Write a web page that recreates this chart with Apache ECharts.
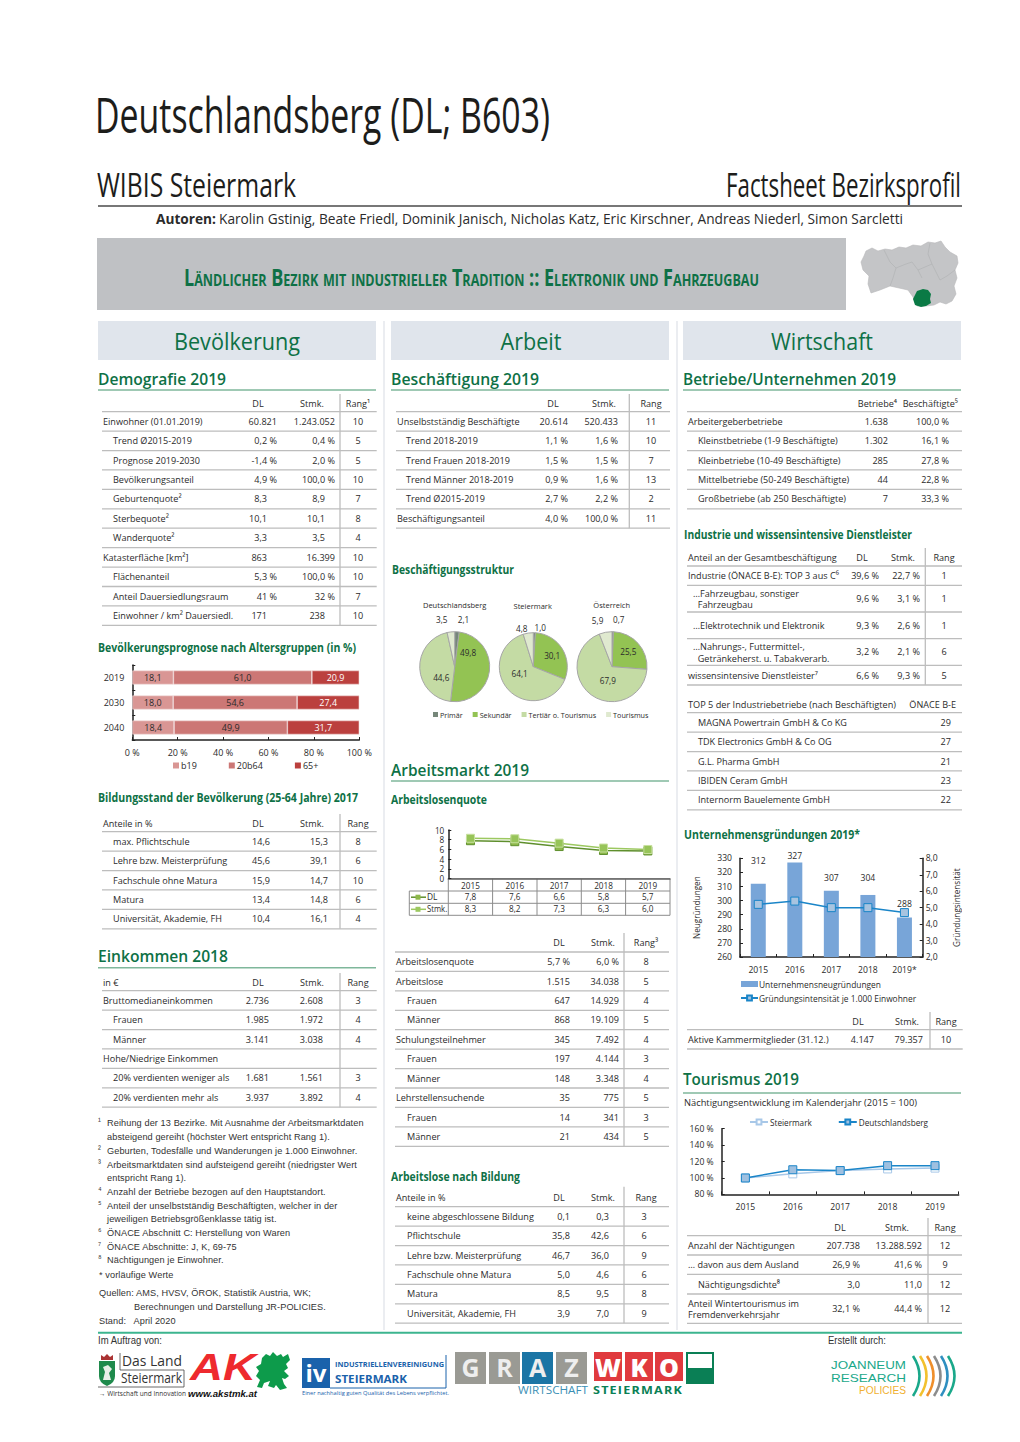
<!DOCTYPE html>
<html lang="de">
<head>
<meta charset="utf-8">
<title>Deutschlandsberg Factsheet</title>
<script src="https://cdn.jsdelivr.net/npm/echarts@6/dist/echarts.min.js"></script>
<style>
  html, body { margin: 0; padding: 0; background: #fff; }
  #page { position: relative; width: 1020px; height: 1442px; overflow: hidden; font-family: "Open Sans", sans-serif; color: #2b2b2b; }
  #page svg.bg { position: absolute; left: 0; top: 0; }
  #page span { position: absolute; white-space: pre; }
  .chart { position: absolute; }
</style>
</head>
<body>
<div id="page">
  <svg class="bg" id="bg" width="1020" height="1442" xmlns="http://www.w3.org/2000/svg"></svg>
  <div class="chart" id="ageChart" style="left:98px;top:655px;width:280px;height:120px"></div>
  <div class="chart" id="pieChart" style="left:391px;top:595px;width:280px;height:130px"></div>
  <div class="chart" id="alqChart" style="left:395px;top:820px;width:280px;height:72px"></div>
  <div class="chart" id="foundChart" style="left:683px;top:848px;width:279px;height:162px"></div>
  <div class="chart" id="nightChart" style="left:683px;top:1112px;width:279px;height:102px"></div>
</div>

<script>
// ---------- Daten: Diagramme ----------
const ageYears = ['2019', '2030', '2040']
const ageB19 = [18.1, 18.0, 18.4]
const age20b64 = [61.0, 54.6, 49.9]
const age65 = [20.9, 27.4, 31.7]

const pieSectors = ['Primär', 'Sekundär', 'Tertiär o. Tourismus', 'Tourismus']
const pieDL = [2.1, 49.8, 44.6, 3.5]
const pieStmk = [1.0, 30.1, 64.1, 4.8]
const pieAT = [0.7, 25.5, 67.9, 5.9]

const alqYears = ['2015', '2016', '2017', '2018', '2019']
const alqDL = [7.8, 7.6, 6.6, 5.8, 5.7]
const alqStmk = [8.3, 8.2, 7.3, 6.3, 6.0]

const foundYears = ['2015', '2016', '2017', '2018', '2019*']
const foundCount = [312, 327, 307, 304, 288]
const foundRate = [5.2, 5.4, 5.0, 5.0, 4.7]

const nightYears = ['2015', '2016', '2017', '2018', '2019']
const nightStmk = [100, 105, 109, 111, 112]
const nightDL = [100, 110, 109, 115, 115]

// ---------- Daten: Tabellen ----------
const demoLabels = ['Einwohner (01.01.2019)', 'Trend Ø2015-2019', 'Prognose 2019-2030', 'Bevölkerungsanteil', 'Geburtenquote²', 'Sterbequote²', 'Wanderquote²', 'Katasterfläche [km²]', 'Flächenanteil', 'Anteil Dauersiedlungsraum', 'Einwohner / km² Dauersiedl.']
const demoDL = ['60.821', '0,2 %', '-1,4 %', '4,9 %', '8,3', '10,1', '3,3', '863', '5,3 %', '41 %', '171']
const demoStmk = ['1.243.052', '0,4 %', '2,0 %', '100,0 %', '8,9', '10,1', '3,5', '16.399', '100,0 %', '32 %', '238']
const demoRang = ['10', '5', '5', '10', '7', '8', '4', '10', '10', '7', '10']

const bildLabels = ['max. Pflichtschule', 'Lehre bzw. Meisterprüfung', 'Fachschule ohne Matura', 'Matura', 'Universität, Akademie, FH']
const bildDL = ['14,6', '45,6', '15,9', '13,4', '10,4']
const bildStmk = ['15,3', '39,1', '14,7', '14,8', '16,1']
const bildRang = ['8', '6', '10', '6', '4']

const einkLabels = ['Bruttomedianeinkommen', 'Frauen', 'Männer', 'Hohe/Niedrige Einkommen', '20% verdienten weniger als', '20% verdienten mehr als']
const einkDL = ['2.736', '1.985', '3.141', '', '1.681', '3.937']
const einkStmk = ['2.608', '1.972', '3.038', '', '1.561', '3.892']
const einkRang = ['3', '4', '4', '', '3', '4']

const beschLabels = ['Unselbstständig Beschäftigte', 'Trend 2018-2019', 'Trend Frauen 2018-2019', 'Trend Männer 2018-2019', 'Trend Ø2015-2019', 'Beschäftigungsanteil']
const beschDL = ['20.614', '1,1 %', '1,5 %', '0,9 %', '2,7 %', '4,0 %']
const beschStmk = ['520.433', '1,6 %', '1,5 %', '1,6 %', '2,2 %', '100,0 %']
const beschRang = ['11', '10', '7', '13', '2', '11']

const almLabels = ['Arbeitslosenquote', 'Arbeitslose', 'Frauen', 'Männer', 'Schulungsteilnehmer', 'Frauen', 'Männer', 'Lehrstellensuchende', 'Frauen', 'Männer']
const almDL = ['5,7 %', '1.515', '647', '868', '345', '197', '148', '35', '14', '21']
const almStmk = ['6,0 %', '34.038', '14.929', '19.109', '7.492', '4.144', '3.348', '775', '341', '434']
const almRang = ['8', '5', '4', '5', '4', '3', '4', '5', '3', '5']

const albLabels = ['keine abgeschlossene Bildung', 'Pflichtschule', 'Lehre bzw. Meisterprüfung', 'Fachschule ohne Matura', 'Matura', 'Universität, Akademie, FH']
const albDL = ['0,1', '35,8', '46,7', '5,0', '8,5', '3,9']
const albStmk = ['0,3', '42,6', '36,0', '4,6', '9,5', '7,0']
const albRang = ['3', '6', '9', '6', '8', '9']

const betrLabels = ['Arbeitergeberbetriebe', 'Kleinstbetriebe (1-9 Beschäftigte)', 'Kleinbetriebe (10-49 Beschäftigte)', 'Mittelbetriebe (50-249 Beschäftigte)', 'Großbetriebe (ab 250 Beschäftigte)']
const betrCount = ['1.638', '1.302', '285', '44', '7']
const betrShare = ['100,0 %', '16,1 %', '27,8 %', '22,8 %', '33,3 %']

const indLabels = ['Industrie (ÖNACE B-E): TOP 3 aus C⁶', '…Fahrzeugbau, sonstiger\n\u00a0\u00a0Fahrzeugbau', '…Elektrotechnik und Elektronik', '…Nahrungs-, Futtermittel-,\n\u00a0\u00a0Getränkeherst. u. Tabakverarb.', 'wissensintensive Dienstleister⁷']
const indDL = ['39,6 %', '9,6 %', '9,3 %', '3,2 %', '6,6 %']
const indStmk = ['22,7 %', '3,1 %', '2,6 %', '2,1 %', '9,3 %']
const indRang = ['1', '1', '1', '6', '5']

const topLabels = ['MAGNA Powertrain GmbH & Co KG', 'TDK Electronics GmbH & Co OG', 'G.L. Pharma GmbH', 'IBIDEN Ceram GmbH', 'Internorm Bauelemente GmbH']
const topOenace = ['29', '27', '21', '23', '22']

const kammerLabels = ['Aktive Kammermitglieder (31.12.)']
const kammerDL = ['4.147']
const kammerStmk = ['79.357']
const kammerRang = ['10']

const tourLabels = ['Anzahl der Nächtigungen', '… davon aus dem Ausland', 'Nächtigungsdichte⁸', 'Anteil Wintertourismus im\nFremdenverkehrsjahr']
const tourDL = ['207.738', '26,9 %', '3,0', '32,1 %']
const tourStmk = ['13.288.592', '41,6 %', '11,0', '44,4 %']
const tourRang = ['12', '9', '12', '12']

const footnotes = [
  ['¹', 'Reihung der 13 Bezirke. Mit Ausnahme der Arbeitsmarktdaten'],
  ['', 'absteigend gereiht (höchster Wert entspricht Rang 1).'],
  ['²', 'Geburten, Todesfälle und Wanderungen je 1.000 Einwohner.'],
  ['³', 'Arbeitsmarktdaten sind aufsteigend gereiht (niedrigster Wert'],
  ['', 'entspricht Rang 1).'],
  ['⁴', 'Anzahl der Betriebe bezogen auf den Hauptstandort.'],
  ['⁵', 'Anteil der unselbstständig Beschäftigten, welcher in der'],
  ['', 'jeweiligen Betriebsgrößenklasse tätig ist.'],
  ['⁶', 'ÖNACE Abschnitt C: Herstellung von Waren'],
  ['⁷', 'ÖNACE Abschnitte: J, K, 69-75'],
  ['⁸', 'Nächtigungen je Einwohner.']
]

// ---------- Helfer ----------
const GREEN = '#0e7146'
const page = document.getElementById('page')
const bg = document.getElementById('bg')
const comma = v => v.toFixed(1).replace('.', ',')

// Text: y ist die Mitte der Zeile, a = l/r/c, w = Zielbreite, sx = feste Stauchung
function txt(x, y, s, o = {}) {
  const e = document.createElement('span')
  e.textContent = s
  e.style.left = x + 'px'
  e.style.top = y + 'px'
  e.style.fontSize = (o.size || 9.4) + 'px'
  e.style.lineHeight = s.includes('\n') ? 1.2 : 1
  e.style.fontFamily = o.font || '"Open Sans", sans-serif'
  e.style.fontWeight = o.weight || 400
  e.style.color = o.color || '#2b2b2b'
  if (o.style) e.style.fontStyle = o.style
  if (o.caps) e.style.fontVariant = 'small-caps'
  if (o.ls) e.style.letterSpacing = o.ls + 'px'
  page.appendChild(e)
  const sx = o.w ? o.w / e.getBoundingClientRect().width : (o.sx || 1)
  const a = o.a || 'l'
  const tx = a === 'r' ? '-100%' : a === 'c' ? '-50%' : '0'
  e.style.transformOrigin = (a === 'r' ? 'right' : a === 'c' ? 'center' : 'left') + ' center'
  e.style.transform = `translate(${tx},-50%) scaleX(${sx})`
  return e
}

function shape(tag, attrs) {
  const e = document.createElementNS('http://www.w3.org/2000/svg', tag)
  Object.keys(attrs).forEach(k => e.setAttribute(k, attrs[k]))
  bg.appendChild(e)
  return e
}
const line = (x1, y1, x2, y2, stroke = '#bdbdbd', w = 1.3) => shape('line', { x1, y1, x2, y2, stroke, 'stroke-width': w })
const box = (x, y, width, height, fill) => shape('rect', { x, y, width, height, fill })
const steps = (start, n, step = 19.42) => Array.from({ length: n + 1 }, (_, i) => start + i * step)

// Tabelle: lines = Linien ab Kopf-Unterkante, eine Zeile liegt zwischen zwei Linien
function table(t) {
  const SX = 0.97
  t.lines.forEach(y => line(t.x0, y, t.x1, y))
  if (t.vx) line(t.vx, t.vTop, t.vx, t.lines[t.lines.length - 1])
  if (t.corner) txt(t.lx, t.headY, t.corner, { sx: SX })
  t.labels.forEach((s, i) => {
    const y = (t.lines[i] + t.lines[i + 1]) / 2 + 0.4
    const x = (t.indent || []).includes(i) ? t.ix : t.lx
    txt(x, y, s, { sx: SX })
  })
  t.cols.forEach(c => {
    if (c.head) txt(c.hx, t.headY, c.head, { a: c.ha || 'c', sx: SX })
    c.values.forEach((v, i) => {
      if (!v) return
      const y = (t.lines[i] + t.lines[i + 1]) / 2 + 0.4
      if (c.center) txt(c.center, y, v, { a: 'c', sx: SX })
      else txt(c.right - ((c.shift || []).includes(i) ? 10 : 0), y, v, { a: 'r', sx: SX })
    })
  })
}

function sectionHead(x0, y, s, w, ruleY) {
  txt(x0, y - 1, s, { size: 17, weight: 600, color: GREEN, w })
  line(x0, ruleY, x0 + 278, ruleY, '#7fb79b', 1.4)
}
const smallHead = (x, y, s, w) => txt(x, y - 0.5, s, { size: 11.5, weight: 700, color: GREEN, w })

// ---------- Kopfbereich ----------
txt(95, 113.5, 'Deutschlandsberg (DL; B603)', { size: 50, w: 455, color: '#1d1d1b' })
txt(97, 184, 'WIBIS Steiermark', { size: 33, w: 199, color: '#1d1d1b' })
txt(961, 184, 'Factsheet Bezirksprofil', { size: 33, a: 'r', w: 235, color: '#1d1d1b' })
line(98, 206, 962, 206, '#4a4a4a', 1.5)
txt(156, 219, 'Autoren:', { size: 14.5, weight: 700, w: 60 })
txt(219, 219, 'Karolin Gstinig, Beate Friedl, Dominik Janisch, Nicholas Katz, Eric Kirschner, Andreas Niederl, Simon Sarcletti', { size: 14.5, w: 684 })

box(97, 238, 749, 72, '#bfc1c4')
txt(184, 277, 'Ländlicher Bezirk mit industrieller Tradition :: Elektronik und Fahrzeugbau', { size: 23, weight: 700, caps: true, color: GREEN, w: 575 })

// Karte Steiermark (nur Schmuck)
shape('path', { d: 'M866 251 L872 248 L878 251 L885 249 L892 250 L899 247 L906 248 L913 245 L921 246 L928 242 L935 243 L941 241 L945 247 L950 252 L957 256 L958 263 L955 270 L957 278 L954 286 L956 294 L952 301 L946 304 L940 302 L934 305 L926 306 L917 306 L913 297 L908 290 L899 288 L890 286 L880 290 L871 293 L868 284 L869 276 L863 270 L861 262 L864 256 Z', fill: '#c4c5c7', stroke: '#b8b9bb', 'stroke-width': 0.6 })
shape('path', { d: 'M884 250 L890 262 L896 268 L906 264 L912 262 L918 270 L922 278 M930 243 L928 254 L932 264 L940 280 M896 268 L893 278 L890 286 M940 280 L947 276 L955 270 M918 270 L932 264', fill: 'none', stroke: '#aeb0b2', 'stroke-width': 0.6 })
shape('path', { d: 'M917 291 L923 289 L928 290 L931 294 L930 299 L931 303 L926 306 L921 307 L915 305 L913 299 L915 295 Z', fill: '#0a7a45' })

// Spaltenköpfe
box(98, 321, 278, 39, '#e0e5ec')
box(391, 321, 278, 39, '#e0e5ec')
box(683, 321, 278, 39, '#e0e5ec')
txt(237, 340.5, 'Bevölkerung', { size: 24, a: 'c', color: GREEN, w: 126 })
txt(531, 340.5, 'Arbeit', { size: 24, a: 'c', color: GREEN, w: 61 })
txt(822, 340.5, 'Wirtschaft', { size: 24, a: 'c', color: GREEN, w: 102 })
line(384, 321, 384, 1330, '#e4e7ec', 1.5)
line(677, 321, 677, 1330, '#e4e7ec', 1.5)

// ---------- Spalte Bevölkerung ----------
sectionHead(98, 379, 'Demografie 2019', 128, 390)
table({
  x0: 102, x1: 376.7, vx: 340, vTop: 394, headY: 403.5, lines: steps(411.7, 11), lx: 103, ix: 113, indent: [1, 2, 3, 4, 5, 6, 8, 9, 10],
  labels: demoLabels,
  cols: [
    { head: 'DL', hx: 258, values: demoDL, right: 277, shift: [4, 5, 6, 7, 10] },
    { head: 'Stmk.', hx: 312, values: demoStmk, right: 335, shift: [4, 5, 6, 10] },
    { head: 'Rang¹', hx: 358, values: demoRang, center: 358 }
  ]
})
smallHead(98, 648.5, 'Bevölkerungsprognose nach Altersgruppen (in %)', 258)

smallHead(98, 798.5, 'Bildungsstand der Bevölkerung (25-64 Jahre) 2017', 260)
table({
  x0: 102, x1: 376.7, vx: 340, vTop: 814, headY: 823.5, lines: steps(831.7, 5), lx: 103, ix: 113, indent: [0, 1, 2, 3, 4], corner: 'Anteile in %',
  labels: bildLabels,
  cols: [
    { head: 'DL', hx: 258, values: bildDL, right: 269.5 },
    { head: 'Stmk.', hx: 312, values: bildStmk, right: 328 },
    { head: 'Rang', hx: 358, values: bildRang, center: 358 }
  ]
})

sectionHead(98, 955.5, 'Einkommen 2018', 130, 967.7)
table({
  x0: 102, x1: 376.7, vx: 340, vTop: 973, headY: 983, lines: steps(990.7, 6), lx: 103, ix: 113, indent: [1, 2, 4, 5], corner: 'in €',
  labels: einkLabels,
  cols: [
    { head: 'DL', hx: 258, values: einkDL, right: 269 },
    { head: 'Stmk.', hx: 312, values: einkStmk, right: 323 },
    { head: 'Rang', hx: 358, values: einkRang, center: 358 }
  ]
})

// Fußnoten
const FN = { font: '"Liberation Sans", Arial, sans-serif', size: 9.6, sx: 0.955, color: '#333', ls: 0.1 }
const fnY = [1123.3, 1137.3, 1151, 1165, 1178, 1192, 1205.7, 1219, 1233, 1247, 1260.3]
footnotes.forEach((f, i) => {
  if (f[0]) txt(98, fnY[i] - 2, f[0], Object.assign({}, FN, { size: 9 }))
  txt(107.3, fnY[i], f[1], FN)
})
txt(99, 1274.7, '* vorläufige Werte', FN)
txt(99, 1293, 'Quellen: AMS, HVSV, ÖROK, Statistik Austria, WK;', FN)
txt(134, 1306.7, 'Berechnungen und Darstellung JR-POLICIES.', FN)
txt(99, 1320.7, 'Stand:   April 2020', FN)

// ---------- Spalte Arbeit ----------
sectionHead(391, 379, 'Beschäftigung 2019', 148, 390)
table({
  x0: 396, x1: 670, vx: 629.3, vTop: 394, headY: 403.5, lines: steps(411.7, 6), lx: 397, ix: 405.7, indent: [1, 2, 3, 4],
  labels: beschLabels,
  cols: [
    { head: 'DL', hx: 553, values: beschDL, right: 568 },
    { head: 'Stmk.', hx: 604, values: beschStmk, right: 618 },
    { head: 'Rang', hx: 650.7, values: beschRang, center: 650.7 }
  ]
})
smallHead(391.5, 570, 'Beschäftigungsstruktur', 122)
sectionHead(391, 770, 'Arbeitsmarkt 2019', 138, 781)
smallHead(391, 800, 'Arbeitslosenquote', 96)

// Datentabelle unter dem Liniendiagramm
const alqCols = [448.3, 492.6, 537, 581.3, 625.6, 670]
const alqRows = [878.7, 891, 903.3, 915.3]
alqRows.slice(1).forEach(y => line(409.3, y, 670, y, '#8c8c8c', 1))
line(448.3, 878.7, 670, 878.7, '#8c8c8c', 1)
alqCols.forEach(x => line(x, 878.7, x, 915.3, '#8c8c8c', 1))
line(409.3, 891, 409.3, 915.3, '#8c8c8c', 1)
alqDL.forEach((v, i) => txt((alqCols[i] + alqCols[i + 1]) / 2, 897.2, comma(v), { size: 8.2, a: 'c' }))
alqStmk.forEach((v, i) => txt((alqCols[i] + alqCols[i + 1]) / 2, 909.3, comma(v), { size: 8.2, a: 'c' }))
line(411, 897.2, 426, 897.2, '#5f8f2d', 1.5)
box(415.5, 894.7, 5, 5, '#8db84a')
line(411, 909.3, 426, 909.3, '#9cc860', 1.5)
box(415.5, 906.8, 5, 5, '#9cc860')
txt(427, 897.2, 'DL', { size: 8.4 })
txt(427, 909.3, 'Stmk.', { size: 8.4, sx: 0.92 })

table({
  x0: 395, x1: 669, vx: 624, vTop: 933, headY: 943.3, lines: steps(952, 10, 19.43), lx: 396, ix: 406.5, indent: [2, 3, 5, 6, 8, 9],
  labels: almLabels,
  cols: [
    { head: 'DL', hx: 559, values: almDL, right: 570 },
    { head: 'Stmk.', hx: 603, values: almStmk, right: 619 },
    { head: 'Rang³', hx: 646.3, values: almRang, center: 646.3 }
  ]
})
smallHead(391, 1177, 'Arbeitslose nach Bildung', 129)
table({
  x0: 395, x1: 669, vx: 624, vTop: 1186.7, headY: 1197.5, lines: steps(1206.7, 6), lx: 396, ix: 406.5, indent: [0, 1, 2, 3, 4, 5], corner: 'Anteile in %',
  labels: albLabels,
  cols: [
    { head: 'DL', hx: 559, values: albDL, right: 570 },
    { head: 'Stmk.', hx: 603, values: albStmk, right: 609 },
    { head: 'Rang', hx: 645.5, values: albRang, center: 644 }
  ]
})

// ---------- Spalte Wirtschaft ----------
sectionHead(683, 379, 'Betriebe/Unternehmen 2019', 213, 390)
table({
  x0: 687, x1: 962, headY: 403.5, lines: steps(411.7, 5), lx: 688, ix: 698, indent: [1, 2, 3, 4],
  labels: betrLabels,
  cols: [
    { head: 'Betriebe⁴', hx: 896.7, ha: 'r', values: betrCount, right: 888 },
    { head: 'Beschäftigte⁵', hx: 958, ha: 'r', values: betrShare, right: 949 }
  ]
})
smallHead(684, 535.3, 'Industrie und wissensintensive Dienstleister', 228)
table({
  x0: 687, x1: 962, vx: 925.3, vTop: 548, headY: 557.7, lines: [566, 585.3, 612, 638.7, 665.3, 685], lx: 688, ix: 693, indent: [1, 2, 3], corner: 'Anteil an der Gesamtbeschäftigung',
  labels: indLabels,
  cols: [
    { head: 'DL', hx: 861.7, values: indDL, right: 879 },
    { head: 'Stmk.', hx: 903.3, values: indStmk, right: 920 },
    { head: 'Rang', hx: 943.5, values: indRang, center: 944 }
  ]
})
table({
  x0: 687, x1: 962, headY: 705, lines: steps(712.7, 5), lx: 698, ix: 698, corner: '',
  labels: topLabels,
  cols: [
    { head: 'ÖNACE B-E', hx: 956, ha: 'r', values: topOenace, right: 951 }
  ]
})
txt(688, 705, 'TOP 5 der Industriebetriebe (nach Beschäftigten)', { w: 208 })

smallHead(684, 835.3, 'Unternehmensgründungen 2019*', 176)
table({
  x0: 687, x1: 962.7, vx: 930, vTop: 1012, headY: 1021.7, lines: [1029.7, 1049], lx: 688, ix: 688,
  labels: kammerLabels,
  cols: [
    { head: 'DL', hx: 858, values: kammerDL, right: 874 },
    { head: 'Stmk.', hx: 907, values: kammerStmk, right: 923 },
    { head: 'Rang', hx: 946, values: kammerRang, center: 946 }
  ]
})

sectionHead(683, 1079, 'Tourismus 2019', 116, 1093)
txt(684, 1103, 'Nächtigungsentwicklung im Kalenderjahr (2015 = 100)', { w: 233 })
table({
  x0: 687, x1: 962, vx: 928, vTop: 1218, headY: 1228, lines: [1235.7, 1255, 1274.3, 1294, 1323.3], lx: 688, ix: 698, indent: [2],
  labels: tourLabels,
  cols: [
    { head: 'DL', hx: 840, values: tourDL, right: 859.5 },
    { head: 'Stmk.', hx: 897, values: tourStmk, right: 922 },
    { head: 'Rang', hx: 945, values: tourRang, center: 945 }
  ]
})

// ---------- Fußzeile und Logos ----------
line(98, 1332.7, 962, 1332.7, '#3cb58f', 2)
const FOOT = { font: '"Liberation Sans", Arial, sans-serif', size: 10, color: '#333' }
txt(98, 1340.7, 'Im Auftrag von:', Object.assign({ w: 64 }, FOOT))
txt(828, 1340.7, 'Erstellt durch:', Object.assign({ w: 58 }, FOOT))

// Das Land Steiermark
shape('path', { d: 'M99 1361 L115 1361 L115 1376 Q115 1383 107 1386 Q99 1383 99 1376 Z', fill: '#1f8a4c' })
shape('path', { d: 'M103 1380 L105 1372 L103 1367 L108 1365 L112 1369 L109 1373 L111 1380 Z', fill: '#e8efe8' })
shape('path', { d: 'M101 1360 L101 1355 L104 1357 L107 1354 L110 1357 L113 1355 L113 1360 Z', fill: '#a33' })
line(120, 1353, 120, 1370, '#444', 0.8); line(120, 1370, 184, 1370, '#444', 0.8)
line(184, 1370, 184, 1387, '#444', 0.8); line(98, 1387, 184, 1387, '#444', 0.8)
txt(122, 1361, 'Das Land', { size: 14, w: 60, color: '#333' })
txt(121, 1378, 'Steiermark', { size: 14, w: 61, color: '#333' })
txt(99, 1393, '→ Wirtschaft und Innovation', { size: 7, w: 87, color: '#333' })

// AK
txt(190, 1367.5, 'AK', { font: '"Liberation Sans"', size: 36, weight: 700, style: 'italic', color: '#ee2a2e', w: 66 })
shape('path', { d: 'M262 1358 L266 1354 L270 1356 L273 1352 L277 1356 L281 1354 L283 1357 L288 1354 L290 1360 L286 1364 L288 1368 L284 1371 L289 1376 L285 1379 L282 1378 L284 1384 L287 1388 L280 1390 L276 1385 L274 1388 L268 1386 L270 1381 L264 1383 L262 1388 L257 1387 L260 1380 L256 1376 L259 1371 L256 1367 L261 1364 Z', fill: '#0d9b4b' })
txt(188, 1393.5, 'www.akstmk.at', { font: '"Liberation Sans"', size: 9.5, weight: 700, style: 'italic', color: '#111', w: 69 })

// iv
box(302, 1358, 28, 30, '#1a62ab')
txt(316, 1373, 'iv', { size: 24, weight: 700, color: '#fff', a: 'c' })
line(446, 1355, 446, 1388, '#1a62ab', 1); line(330, 1388, 446, 1388, '#1a62ab', 1)
txt(335, 1365, 'INDUSTRIELLENVEREINIGUNG', { size: 7.5, weight: 700, color: '#1a62ab', w: 109 })
txt(335, 1378, 'STEIERMARK', { size: 11, weight: 700, color: '#1a62ab', w: 72 })
txt(302, 1393, 'Einer nachhaltig guten Qualität des Lebens verpflichtet.', { size: 6, color: '#1a62ab', w: 147 })

// Graz
const grazX = [455, 489, 522, 556]
'GRAZ'.split('').forEach((c, i) => {
  box(grazX[i], 1352, 31, 32, c === 'A' ? '#1b75a5' : '#9a9a94')
  txt(grazX[i] + 15.5, 1367, c, { size: 25, weight: 700, color: '#eee', a: 'c' })
})
txt(518, 1390, 'WIRTSCHAFT', { size: 10, color: '#3b8fb5', w: 70 })

// WKO
const wkoX = [594, 625, 655]
'WKO'.split('').forEach((c, i) => {
  box(wkoX[i], 1352, 28, 29, '#e03a3e')
  txt(wkoX[i] + 14, 1366.5, c, { size: 25, weight: 800, color: '#fff', a: 'c' })
})
box(686, 1352, 28, 32, '#0a7f55')
box(688, 1354, 24, 14, '#fff')
txt(593, 1390, 'STEIERMARK', { size: 10.5, weight: 700, color: '#0a7f55', w: 90, ls: 1 })

// Joanneum Research
const JR = '"Liberation Sans", Arial, sans-serif'
txt(831, 1364.5, 'JOANNEUM', { font: JR, size: 11, color: '#1aa88a', w: 75 })
txt(831, 1378, 'RESEARCH', { font: JR, size: 11, color: '#1aa88a', w: 75 })
txt(859, 1391, 'POLICIES', { font: JR, size: 10, color: '#f0b030', w: 47 })
const arcColors = ['#1aa88a', '#f2c12e', '#ef8f2b', '#8c8c8c', '#2f8fc0', '#1aa88a']
arcColors.forEach((c, i) => {
  const x = 913 + i * 7
  shape('path', { d: `M${x} 1356 Q${x + 13} 1376 ${x} 1396`, fill: 'none', stroke: c, 'stroke-width': 2.6 })
})

// ---------- Diagramme ----------
const AXIS = { lineStyle: { color: '#222', width: 1.5 } }
const TICK = { show: true, inside: true, length: 3, lineStyle: { color: '#222', width: 1 } }
const FONT = '"Open Sans", sans-serif'
const init = id => echarts.init(document.getElementById(id), null, { renderer: 'svg' })

// Bevölkerungsprognose
function ageSeries(name, data, color, labelColor) {
  return {
    name, type: 'bar', stack: 'alter', data, barWidth: 14,
    itemStyle: { color, borderColor: '#f0dcdc', borderWidth: 0.6 },
    label: { show: true, position: 'inside', formatter: p => comma(p.value), color: labelColor, fontSize: 9, fontFamily: FONT }
  }
}
init('ageChart').setOption({
  animation: false,
  grid: { left: 34.3, top: 10, width: 227, height: 75, outerBoundsMode: 'none' },
  legend: {
    left: 75, top: 106, padding: 0, itemWidth: 6, itemHeight: 6, itemGap: 32, icon: 'rect',
    itemStyle: { borderWidth: 0 },
    textStyle: { fontSize: 9, fontFamily: FONT, color: '#2b2b2b', padding: [0, 0, 0, -3] }
  },
  xAxis: {
    type: 'value', min: 0, max: 100, interval: 20,
    axisLine: Object.assign({ show: true }, AXIS), axisTick: TICK, splitLine: { show: false },
    axisLabel: { formatter: '{value} %', fontSize: 9, fontFamily: FONT, color: '#2b2b2b', margin: 8 }
  },
  yAxis: {
    type: 'category', data: ageYears, inverse: true,
    axisLine: AXIS, axisTick: TICK,
    axisLabel: { fontSize: 9, fontFamily: FONT, color: '#2b2b2b', margin: 8 }
  },
  series: [
    ageSeries('b19', ageB19, '#d99694', '#2b2b2b'),
    ageSeries('20b64', age20b64, '#cc7775', '#2b2b2b'),
    ageSeries('65+', age65, '#bb403e', '#fff')
  ]
})

// Beschäftigungsstruktur
const pieColors = ['#76877a', '#93c353', '#c4dba4', '#dfe9cf']
function pieSeries(values, center, radius, gap, shifts) {
  return {
    type: 'pie', radius, center, startAngle: 90, clockwise: true, avoidLabelOverlap: false, silent: true,
    itemStyle: { borderColor: '#a6a6a6', borderWidth: 1 },
    labelLine: { show: false, length: gap, length2: 0 },
    data: values.map((value, i) => ({
      value, name: pieSectors[i], itemStyle: { color: pieColors[i] },
      label: {
        position: i === 1 || i === 2 ? 'inside' : 'outside',
        offset: shifts[i],
        formatter: p => comma(p.value), fontSize: 8.2, fontFamily: FONT, color: '#2b2b2b', distanceToLabelLine: 0
      }
    }))
  }
}
const pieTitle = (text, left, top) => ({ text, left, top, padding: 0, textAlign: 'center', textStyle: { fontSize: 7.5, fontWeight: 400, fontFamily: FONT, color: '#2b2b2b' } })
init('pieChart').setOption({
  animation: false,
  title: [pieTitle('Deutschlandsberg', 63.7, 6), pieTitle('Steiermark', 141.7, 7), pieTitle('Österreich', 220.7, 6)],
  legend: {
    data: pieSectors, left: 42, top: 116, padding: 0, itemWidth: 5, itemHeight: 5, itemGap: 10, icon: 'rect',
    itemStyle: { borderWidth: 0 },
    textStyle: { fontSize: 7.2, fontFamily: FONT, color: '#2b2b2b', padding: [0, 0, 0, -3] }
  },
  series: [
    pieSeries(pieDL, [63.7, 71.7], 35, 12, [[0, 0], [-7, -17], [7, 10], [-2, 0]]),
    pieSeries(pieStmk, [142.3, 71.7], 34, 5, [[0, 0], [2, -1], [1, -7], [0, 0]]),
    pieSeries(pieAT, [221, 71.7], 35, 12, [[0, 0], [1, -2], [8, -3], [0, 0]])
  ]
})

// Arbeitslosenquote
init('alqChart').setOption({
  animation: false,
  grid: { left: 53.3, top: 10, width: 221.7, height: 48.7, outerBoundsMode: 'none' },
  xAxis: {
    type: 'category', data: alqYears,
    axisLine: { lineStyle: { color: '#666', width: 1.5 } }, axisTick: { show: false },
    axisLabel: { fontSize: 8.2, fontFamily: FONT, color: '#2b2b2b', margin: 3 }
  },
  yAxis: {
    type: 'value', min: 0, max: 10, interval: 2, splitLine: { show: false },
    axisLine: Object.assign({ show: true }, AXIS), axisTick: TICK,
    axisLabel: { fontSize: 8.2, fontFamily: FONT, color: '#2b2b2b', margin: 4 }
  },
  series: [
    { name: 'DL', type: 'line', data: alqDL, symbol: 'rect', symbolSize: 8, lineStyle: { color: '#5f8f2d', width: 1.5 }, itemStyle: { color: '#8db84a', borderColor: '#5f8f2d', borderWidth: 1 } },
    { name: 'Stmk.', type: 'line', data: alqStmk, symbol: 'rect', symbolSize: 8, lineStyle: { color: '#9cc860', width: 1.5 }, itemStyle: { color: '#97c459', borderColor: '#c8e09f', borderWidth: 1 } }
  ]
})

// Unternehmensgründungen
const foundLabelGap = [18, 2, 8, 12, 9]
init('foundChart').setOption({
  animation: false,
  grid: { left: 57, top: 10.3, width: 182.7, height: 98.7, outerBoundsMode: 'none' },
  legend: {
    orient: 'vertical', left: 57, top: 132, padding: 0, itemWidth: 17, itemHeight: 6, itemGap: 6,
    data: [{ name: 'Unternehmensneugründungen', icon: 'rect' }, { name: 'Gründungsintensität je 1.000 Einwohner' }],
    textStyle: { fontSize: 8.4, fontFamily: FONT, color: '#2b2b2b', padding: [0, 0, 0, -4] }
  },
  xAxis: {
    type: 'category', data: foundYears,
    axisLine: AXIS, axisTick: TICK,
    axisLabel: { fontSize: 8.6, fontFamily: FONT, color: '#2b2b2b', margin: 8 }
  },
  yAxis: [
    {
      type: 'value', min: 260, max: 330, interval: 10, splitLine: { show: false },
      name: 'Neugründungen', nameLocation: 'middle', nameGap: 40, nameTextStyle: { fontSize: 8.2, fontFamily: FONT, color: '#2b2b2b' },
      axisLine: Object.assign({ show: true }, AXIS), axisTick: TICK,
      axisLabel: { fontSize: 8.6, fontFamily: FONT, color: '#2b2b2b', margin: 8 }
    },
    {
      type: 'value', min: 2, max: 8, interval: 1, splitLine: { show: false }, position: 'right',
      name: 'Gründungsintensität', nameLocation: 'middle', nameGap: 30, nameRotate: 90, nameTextStyle: { fontSize: 8.2, fontFamily: FONT, color: '#2b2b2b' },
      axisLine: Object.assign({ show: true }, AXIS), axisTick: TICK,
      axisLabel: { formatter: v => comma(v), fontSize: 8.6, fontFamily: FONT, color: '#2b2b2b', margin: 3 }
    }
  ],
  series: [
    {
      name: 'Unternehmensneugründungen', type: 'bar', barWidth: 15,
      itemStyle: { color: '#78a5d8' },
      data: foundCount.map((value, i) => ({ value, label: { distance: foundLabelGap[i] } })),
      label: { show: true, position: 'top', fontSize: 8.6, fontFamily: FONT, color: '#2b2b2b' }
    },
    {
      name: 'Gründungsintensität je 1.000 Einwohner', type: 'line', yAxisIndex: 1, data: foundRate,
      symbol: 'rect', symbolSize: 8, lineStyle: { color: '#1a85c8', width: 1.5 },
      itemStyle: { color: '#a8c4e0', borderColor: '#1a85c8', borderWidth: 1 }
    }
  ]
})

// Nächtigungen
init('nightChart').setOption({
  animation: false,
  grid: { left: 38.7, top: 16.7, width: 237, height: 65.7, outerBoundsMode: 'none' },
  legend: {
    left: 66, top: 6, padding: 0, itemWidth: 18, itemHeight: 6, itemGap: 26,
    data: ['Steiermark', 'Deutschlandsberg'],
    textStyle: { fontSize: 8.2, fontFamily: FONT, color: '#2b2b2b', padding: [0, 0, 0, -3] }
  },
  xAxis: {
    type: 'category', data: nightYears,
    axisLine: AXIS, axisTick: TICK,
    axisLabel: { fontSize: 8.6, fontFamily: FONT, color: '#2b2b2b', margin: 8 }
  },
  yAxis: {
    type: 'value', min: 80, max: 160, interval: 20, splitLine: { show: false },
    axisLine: Object.assign({ show: true }, AXIS), axisTick: TICK,
    axisLabel: { formatter: '{value} %', fontSize: 8.6, fontFamily: FONT, color: '#2b2b2b', margin: 8 }
  },
  series: [
    { name: 'Steiermark', type: 'line', data: nightStmk, symbol: 'rect', symbolSize: 8, lineStyle: { color: '#a8c8e8', width: 1.5 }, itemStyle: { color: '#fff', borderColor: '#a8c8e8', borderWidth: 1 } },
    { name: 'Deutschlandsberg', type: 'line', data: nightDL, symbol: 'rect', symbolSize: 8, lineStyle: { color: '#1a85c8', width: 1.5 }, itemStyle: { color: '#9fc0e0', borderColor: '#1a85c8', borderWidth: 1 } }
  ]
})
</script>
</body>
</html>
